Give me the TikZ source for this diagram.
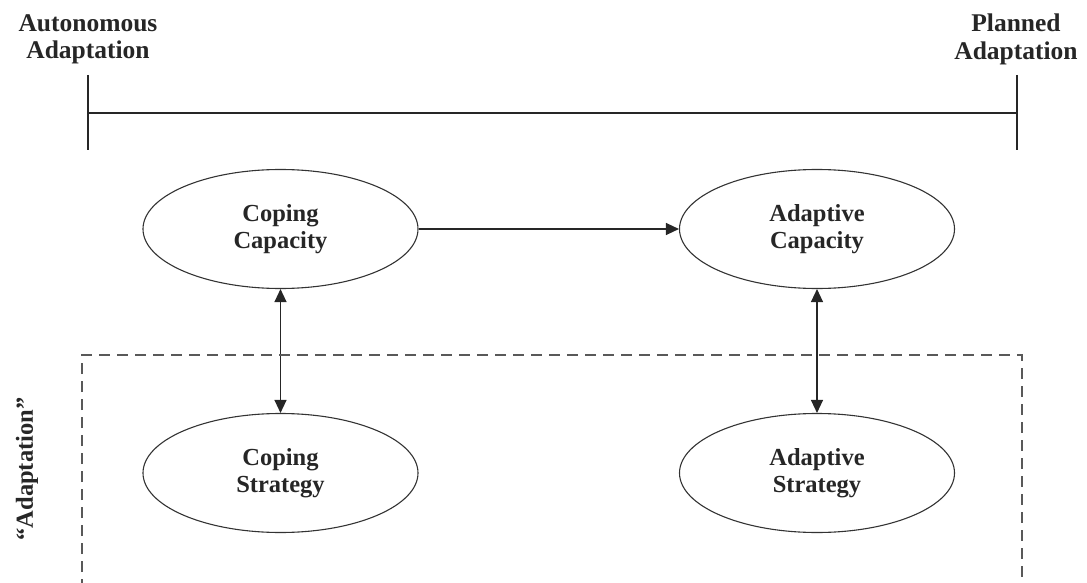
\documentclass[tikz,border=0pt]{standalone}
\usepackage{fontspec}
\setmainfont{Liberation Serif}
\usetikzlibrary{arrows.meta,shapes.geometric}
\begin{document}
\begin{tikzpicture}[x=1pt,y=-1pt,
  lbl/.style={font=\fontsize{24.5}{27}\selectfont\bfseries, text=black!85, align=center, inner sep=0pt},
  toplbl/.style={lbl, font=\fontsize{25.5}{27.5}\selectfont\bfseries},
  oval/.style={lbl, draw=black!80, line width=1.1pt, ellipse, minimum width=275pt, minimum height=119pt},
  link/.style={draw=black!85, line width=1.2pt},
  tip/.style={-{Triangle[length=13pt,width=12pt]}},
  dtip/.style={{Triangle[length=13pt,width=12pt]}-{Triangle[length=13pt,width=12pt]}},
  frame/.style={draw=black!65, line width=1.2pt, dash pattern=on 11pt off 7pt}]
\useasboundingbox (0,0) rectangle (1087,583);

% continuum of adaptation
\node[toplbl] (auto) at (88,39.5) {Autonomous\\Adaptation};
\node[toplbl] (plan) at (1016,39.5) {Planned\\Adaptation};
\coordinate (lt) at (88,75);  \coordinate (lb) at (88,150);
\coordinate (rt) at (1017,75); \coordinate (rb) at (1017,150);
\coordinate (lm) at (88,113);  \coordinate (rm) at (1017,113);
\draw[link] (lt) -- (lb);
\draw[link] (rt) -- (rb);
\draw[link] (lm) -- (rm);

% capacities and strategies
\node[oval] (cc) at (280.5,229) {Coping\\Capacity};
\node[oval] (ac) at (817,229) {Adaptive\\Capacity};
\node[oval] (cs) at (280.5,473) {Coping\\Strategy};
\node[oval] (as) at (817,473) {Adaptive\\Strategy};

\draw[link,tip] (cc) -- (ac);
\draw[link,dtip] (cc) -- (cs);
\draw[link,dtip] (ac) -- (as);

% adaptation region
\coordinate (fbl) at (82,590);
\coordinate (ftl) at (82,355);
\coordinate (ftr) at (1022,355);
\coordinate (fbr) at (1022,590);
\draw[frame] (fbl) -- (ftl) -- (ftr) -- (fbr);
\node[lbl, rotate=90] (adp) at (27,469) {``Adaptation''};
\end{tikzpicture}
\end{document}
